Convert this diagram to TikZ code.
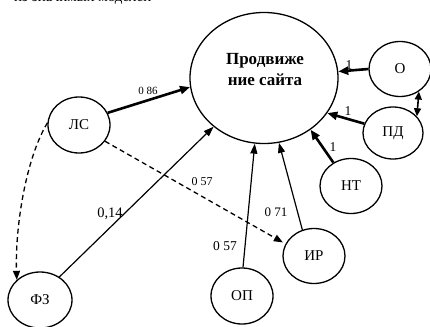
\documentclass[tikz,border=0pt]{standalone}
\usepackage{fontspec}
\setmainfont{Liberation Serif}
\usetikzlibrary{shapes.geometric,arrows.meta}
\begin{document}
\begin{tikzpicture}[x=1pt,y=-1pt,
  circ/.style={ellipse,draw,line width=1.3pt,inner sep=0pt,minimum width=62pt,minimum height=55pt,font=\fontsize{15}{17}\selectfont},
  thickarr/.style={line width=2.6pt,-{Triangle[length=10pt,width=8pt]}},
  thinarr/.style={line width=1.2pt,-{Triangle[length=10pt,width=7pt]}},
  dasharr/.style={line width=1.3pt,dash pattern=on 5pt off 3.5pt,-{Triangle[length=9pt,width=7pt]}},
  lbl/.style={font=\fontsize{13.5}{15}\selectfont,inner sep=0pt}]
\useasboundingbox (0,0) rectangle (430,326);
\clip (0,0) rectangle (430,326);
% clipped caption fragment at the top
\node[anchor=base west,inner sep=0pt,font=\fontsize{15}{17}\selectfont] (cap) at (14,2) {из значимых моделей};
% main ellipse
\node[ellipse,draw,line width=1.3pt,minimum width=148pt,minimum height=131pt,inner sep=0pt] (main) at (264,78) {};
\node[align=center,font=\bfseries\fontsize{17}{21}\selectfont,inner sep=0pt] (maintext) at (265,70) {Продвиже\\ние сайта};
% small nodes
\node[circ] (o) at (400,69) {О};
\node[circ,minimum width=60pt,minimum height=52pt] (pd) at (393,133) {ПД};
\node[circ] (nt) at (351,186) {НТ};
\node[circ] (ir) at (314,256) {ИР};
\node[circ,minimum height=56pt] (op) at (242,296) {ОП};
\node[circ,minimum width=64pt,minimum height=56pt] (fz) at (40,300) {ФЗ};
\node[circ,minimum height=56pt] (ls) at (79,125) {ЛС};
% connectors
\draw[thickarr] (ls.23) -- (main.187);
\draw[thinarr] (fz.50) -- (main.224);
\draw[dasharr,shorten >=3pt] (ls.-32) -- (ir.157);
\draw[dasharr] (ls.176) .. controls (25,160) and (15,230) .. (fz.139);
\draw[thinarr] (op.88) -- (main.262);
\draw[thinarr] (ir.114) -- (main.283);
\draw[thickarr] (nt.127) -- (main.312);
\draw[thickarr] (pd.162) -- (main.331);
\draw[thickarr] (o.180) -- (main.5);
\draw[line width=1.6pt,{Triangle[length=8pt,width=7pt]}-{Triangle[length=8pt,width=7pt]}] (o.-50) -- (pd.35);
% labels
\node[lbl,font=\fontsize{11}{13}\selectfont] (l1) at (148,91) {0 86};
\node[lbl,font=\fontsize{14.5}{16}\selectfont] (l2) at (110,214) {0,14};
\node[lbl,font=\fontsize{12}{14}\selectfont] (l3) at (202,182) {0 57};
\node[lbl] (l4) at (225,246) {0 57};
\node[lbl,font=\fontsize{13}{15}\selectfont] (l5) at (276,212) {0 71};
\node[lbl] (l6) at (333,147) {1};
\node[lbl] (l7) at (348,111) {1};
\node[lbl] (l8) at (349,65) {1};
\end{tikzpicture}
\end{document}
